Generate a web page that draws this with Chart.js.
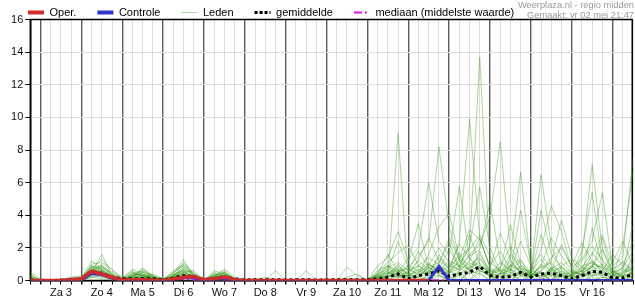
<!DOCTYPE html>
<html>
<head>
<meta charset="utf-8">
<title>Neerslag pluim</title>
<script src="https://cdn.jsdelivr.net/npm/chart.js@4"></script>
<style>
  html, body { margin: 0; padding: 0; background: #fff; }
  #wrap { width: 635px; height: 300px; }
</style>
</head>
<body>
<div id="wrap"><canvas id="pluim" width="635" height="300"></canvas></div>
<script>
'use strict';

// one value per 6 hours, starting vr 2 mei 18:00
const dagen = ['Za 3', 'Zo 4', 'Ma 5', 'Di 6', 'Wo 7', 'Do 8', 'Vr 9', 'Za 10', 'Zo 11', 'Ma 12', 'Di 13', 'Wo 14', 'Do 15', 'Vr 16'];
const yTicks = [0, 2, 4, 6, 8, 10, 12, 14, 16];

const oper = [0, 0,0,0,0.05, 0.1,0.57,0.4,0.2, 0.03,0.05,0.05,0.03, 0,0.1,0.2,0.25, 0.05,0.1,0.22,0.05, 0,0,0,0, 0,0,0,0, 0,0,0,0, 0,0,0,0, 0,0,0];
const controle = [0, 0,0,0,0.03, 0.05,0.45,0.35,0.15, 0,0.03,0.03,0, 0,0.05,0.2,0.2, 0,0.05,0.15,0, 0,0,0,0, 0,0,0,0, 0,0,0,0, 0,0,0,0, 0,0,0,0.86, 0,0,0,0, 0,0,0,0, 0,0,0,0, 0,0,0,0, 0,0,0];
const gemiddelde = [0.05, 0,0,0.02,0.05, 0.1,0.55,0.45,0.2, 0.1,0.1,0.12,0.1, 0.05,0.15,0.3,0.25, 0.05,0.1,0.2,0.1, 0.03,0.05,0.05,0.05, 0.03,0.05,0.05,0.03, 0.03,0.05,0.05,0.05, 0.05,0.1,0.2,0.4, 0.1,0.3,0.4,0.6, 0.25,0.4,0.5,0.85, 0.3,0.2,0.25,0.5, 0.2,0.4,0.45,0.3, 0.1,0.3,0.55,0.5, 0.15,0.15,0.4];
const mediaan = [0, 0,0,0,0, 0,0.4,0.35,0.1, 0,0,0,0, 0,0,0.1,0.05, 0,0,0.05,0, 0,0,0,0, 0,0,0,0, 0,0,0,0, 0,0,0,0, 0,0,0,0, 0,0,0,0, 0,0,0,0, 0,0.05,0.07,0, 0,0,0,0, 0,0,0];

const lid01 = [0.3, 0,0,0,0.1, 0.2,0.9,0.6,0.2, 0.05,0.3,0.5,0.2, 0,0.3,0.8,0.3, 0,0.2,0.4,0.1, 0,0,0,0, 0,0,0,0, 0,0,0.1,0, 0,0.3,0.2,9.0, 0.1,0.3,0.8,0.4, 0,0.6,1.1,0.8, 0.3,0,1.4,6.65, 0.9,0,0.8,0.3, 0,0.6,1.2,0.7, 0,0.5,1.0];
const lid02 = [0.1, 0,0,0,0, 0.1,0.6,1.0,0.4, 0.1,0.1,0.2,0.4, 0.1,0.2,0.5,0.6, 0.1,0.3,0.2,0, 0,0.1,0,0, 0,0,0,0, 0,0,0,0.1, 0,0.2,0.6,0.4, 0.8,1.5,2.4,8.2, 3.3,1.2,0.6,1.8, 0.4,0,0.9,1.3, 0.2,0.5,0,0.8, 0.3,1.5,7.1,1.9, 0.4,0,0.6];
const lid03 = [0, 0,0,0.1,0, 0.1,1.2,0.7,0.1, 0,0.5,0.3,0.1, 0,0.4,1.3,0.2, 0,0.4,0.6,0.1, 0,0,0,0, 0,0,0,0, 0,0,0,0, 0,0.1,0.3,1.0, 0.3,0.6,1.1,0.5, 0.9,1.4,2.0,13.7, 1.1,0.6,0,0.5, 0.2,1.0,0.6,2.2, 0.8,1.3,2.4,5.4, 0.7,1.1,0.5];
const lid04 = [0.5, 0.1,0,0,0.2, 0.3,0.5,1.6,0.3, 0,0.2,0.7,0.3, 0,0.1,0.3,0.1, 0,0.1,0.3,0, 0,0,0,0.6, 0,0,0,0, 0,0,0,0, 0,0.3,0.9,0.6, 0.2,0.9,0.4,1.6, 0.6,2.4,9.9,2.6, 0.8,0.3,0.5,0.9, 0.4,6.5,2.1,0.6, 0.3,0,1.0,0.8, 0.2,0.9,2.4];
const lid05 = [0.2, 0,0,0,0, 0,0.7,0.4,0.3, 0.2,0.6,0.2,0.1, 0,0.5,0.9,0.4, 0,0.5,0.2,0.1, 0,0,0.2,0, 0,0,0.6,0, 0,0,0,0, 0,0.1,0.2,0.8, 0.4,1.2,0.6,0.9, 0.5,0.7,1.6,2.2, 3.9,8.5,1.8,0.7, 0.3,0.8,1.1,0.4, 0,0.4,1.6,2.8, 0.9,1.4,7.5];
const lid06 = [0, 0,0,0,0.1, 0.1,0.4,0.8,0.5, 0.1,0.2,0.8,0.2, 0,0.2,0.6,0.2, 0,0.3,0.5,0, 0,0,0,0, 0,0,0,0, 0.1,0,0.8,0.3, 0,0.4,0.7,0.5, 1.3,2.0,6.0,2.4, 1.6,5.8,1.3,0.9, 0.6,0.4,1.2,0.5, 0.3,1.9,4.6,3.0, 0.7,0.3,0.5,0.2, 0.1,0.3,0.4];
const lid07 = [0.1, 0,0,0,0, 0,1.0,1.1,0.7, 0.1,0.7,0.4,0.2, 0.1,0.6,1.0,0.5, 0,0.2,0.7,0.2, 0,0.1,0,0, 0,0,0,0, 0,0,0,0, 0,0.2,0.5,0.3, 0.1,0.4,1.0,0.6, 1.2,0.9,2.1,5.7, 2.0,0.5,0.9,0.6, 0.2,0,0.6,0.4, 0.5,1.8,5.4,1.2, 0.6,0.2,1.5];
const lid08 = [0, 0,0,0,0, 0,0.3,0.3,0.2, 0,0.1,0.1,0.1, 0,0.1,0.2,0.1, 0,0.1,0.1,0, 0,0,0,0, 0,0,0,0, 0,0,0.2,0.4, 0,0.6,0.9,0.2, 0.3,0.2,0.8,1.1, 2.3,0.8,1.5,1.9, 4.8,1.2,0.6,4.3, 1.0,0.4,0,0.6, 0.2,0.9,1.1,0.8, 0.3,2.1,6.7];
const lid09 = [0.4, 0,0,0,0, 0.1,0.8,0.9,0.3, 0,0.4,0.6,0.3, 0,0.2,1.1,0.4, 0,0.3,0.5,0.1, 0,0,0,0, 0,0,0,0, 0,0,0,0, 0,0.9,1.4,3.0, 1.2,3.5,0.7,1.0, 0.5,1.7,0.6,1.3, 0.7,0,1.0,0.6, 0.4,4.3,1.6,0.8, 0.3,0.6,0.9,0.4, 0.2,0.4,0.8];
const lid10 = [0, 0,0,0,0.2, 0.2,0.7,1.3,0.6, 0.2,0.2,0.3,0.2, 0,0.3,0.7,0.4, 0,0.2,0.3,0.1, 0,0,0,0, 0,0,0,0, 0,0,0,0, 0,0.2,0.8,1.1, 0.6,0.9,1.4,1.0, 2.6,1.3,3.1,2.5, 0.9,1.8,0.7,0.3, 0.2,0.6,1.2,3.7, 1.4,0.8,0.6,0.3, 0.5,0.3,0.2];
const lid11 = [0.2, 0,0,0,0, 0,0.8,0.5,0.2, 0.1,0.3,0.4,0.1, 0,0.5,0.9,0.3, 0,0.6,0.4,0.1, 0,0,0,0, 0,0,0,0, 0,0,0,0, 0,0.5,1.1,1.7, 2.15,0.9,0.5,0.8, 0.6,1.1,1.9,2.8, 1.5,0.4,0.6,1.2, 0.5,0.2,0.4,0.9, 1.3,0.5,0.8,1.9, 0.6,0.3,0.9];
const lid12 = [0.1, 0,0,0,0.1, 0.1,0.6,0.8,0.4, 0,0.3,0.6,0.2, 0,0.1,0.4,0.2, 0,0.2,0.2,0, 0,0,0,0, 0,0,0,0, 0,0,0,0, 0,0.1,0.4,0.9, 0.4,1.3,2.6,1.2, 0.8,2.2,1.4,0.6, 0.3,1.1,0.6,2.4, 0.9,1.6,0.7,0.3, 0.2,1.2,2.1,1.3, 0.4,0.8,1.8];
const lid13 = [0, 0,0,0,0, 0.1,0.5,0.6,0.2, 0,0.4,0.3,0.2, 0,0.3,0.7,0.3, 0,0.4,0.3,0, 0,0,0,0, 0,0,0,0, 0,0,0,0, 0,0,0.2,0.6, 0.2,0.5,0.9,2.0, 1.1,0.6,1.2,2.6, 0.8,2.9,1.3,0.4, 0.3,0.9,2.6,1.5, 0.6,0.3,3.2,0.9, 0.3,0.5,0.7];
const lid14 = [0.3, 0,0,0,0, 0,0.6,0.9,0.3, 0.1,0.5,0.2,0.1, 0,0.2,0.5,0.2, 0,0.3,0.4,0.1, 0,0,0,0, 0,0,0,0, 0,0,0,0, 0,0.3,0.6,2.4, 0.8,0.3,0.6,0.4, 0.5,0.9,0.7,1.6, 0.6,0.8,2.1,0.9, 0.4,2.8,0.9,0.5, 0.2,0.7,1.1,0.6, 1.6,0.9,0.4];
const lid15 = [0, 0,0,0,0, 0.1,0.9,0.7,0.3, 0,0.2,0.5,0.3, 0.1,0.4,0.6,0.2, 0,0.1,0.5,0.1, 0,0,0,0, 0,0,0,0, 0,0,0,0, 0,0.1,0.3,0.2, 0.6,1.8,0.8,0.5, 0.4,0.3,0.8,1.1, 0.5,0.2,0.4,0.8, 0.3,0.6,1.4,2.0, 0.9,2.3,1.2,0.5, 0.3,0.6,3.4];
const lid16 = [0, 0,0,0,0, 0,0.5,0.4,0.1, 0,0.1,0.3,0.1, 0,0.2,0.4,0.1, 0,0.2,0.3,0, 0,0,0,0, 0,0,0,0, 0,0,0,0, 0,0.2,0.4,0.7, 0.3,0.2,0.5,1.4, 0.9,0.7,2.8,1.0, 0.4,0.6,0.3,0.5, 0.2,0.3,0.7,1.1, 0.5,0.4,0.8,2.6, 0.4,0.2,0.5];
const lid17 = [0.1, 0,0,0,0, 0.1,0.7,0.5,0.2, 0,0.2,0.3,0.2, 0,0.3,0.5,0.2, 0,0.2,0.3,0.1, 0,0,0,0, 0,0,0,0, 0,0,0,0, 0,0.4,0.9,0.5, 0.9,0.6,0.3,0.7, 1.9,0.8,0.4,0.6, 0.3,0.4,1.6,0.7, 0.6,1.3,0.5,0.2, 0.1,0.3,0.6,1.0, 0.4,1.2,0.6];
const lid18 = [0, 0,0,0,0, 0,0.4,0.6,0.3, 0,0.1,0.2,0.1, 0,0.1,0.3,0.1, 0,0.1,0.2,0, 0,0,0,0, 0,0,0,0, 0,0,0,0, 0,0,0.2,0.4, 0.2,0,0.4,0.6, 0.5,0.4,0.9,1.4, 0.4,0,0.2,0.6, 0.2,0.5,0,0.4, 0.2,0.4,0.9,0.3, 0,0.3,0.5];
const lid19 = [0, 0,0,0,0, 0,0.3,0.2,0.1, 0,0,0.1,0, 0,0.1,0.2,0.1, 0,0,0.1,0, 0,0,0,0, 0,0,0,0, 0,0,0,0, 0,0.3,0,0.5, 0,0,0.3,0.3, 0,0.5,0,0.8, 0.2,0,0.4,0, 0,0.2,0.8,0, 0.3,0,0.3,0.6, 0,0,0.3];
const lid20 = [0, 0,0,0,0, 0.1,0.4,0.5,0.1, 0,0.2,0.1,0, 0,0.2,0.3,0, 0,0.2,0.2,0, 0,0,0,0, 0,0,0,0, 0,0,0,0, 0,0,0.3,0.2, 0.5,0,1.0,0.6, 0.3,0,0.6,0.4, 0,0.4,0.7,0, 0.3,0.9,0.4,0, 0.4,0.6,0,0.2, 0,0.5,1.2];
const lid21 = [0, 0,0,0,0, 0,0.2,0.3,0, 0,0,0,0, 0,0,0.1,0, 0,0,0,0, 0,0,0,0, 0,0,0,0, 0,0,0,0, 0,0,0,0.3, 0,0,0.2,0, 0,0.3,0,0.5, 0,0,0,0.3, 0,0,0.3,0, 0,0.2,0.4,0, 0,0,0.2];
const lid22 = [0.1, 0,0,0,0, 0,0.5,0.7,0.2, 0,0.3,0.4,0.1, 0,0.3,0.6,0.1, 0,0.2,0.3,0, 0,0,0,0, 0,0,0,0, 0,0,0,0, 0,0.4,1.6,0.6, 0.7,0.4,1.6,3.3, 4.1,1.4,0.9,0.6, 0.4,0.7,0.5,0.3, 0.6,0.4,0.3,0.2, 0.3,0.8,1.7,0.9, 0.5,0.7,0.4];
const lid23 = [0, 0,0,0,0, 0,0.6,0.4,0.2, 0,0.2,0.2,0.1, 0,0.2,0.4,0.2, 0,0.3,0.2,0, 0,0,0,0, 0,0,0,0, 0,0,0,0, 0,0.2,0.5,0.3, 0.3,0.7,0.4,0.6, 0.4,1.3,0.6,0.9, 0.5,0.7,3.4,1.0, 0.4,0.3,0.6,0.8, 0.5,0.4,0.3,0.4, 1.1,2.4,0.9];
const lid24 = [0, 0,0,0,0, 0,0.2,0.1,0, 0,0,0,0, 0,0,0,0, 0,0,0,0, 0,0,0,0, 0,0,0,0, 0,0,0,0, 0,0,0,0, 0,0,0,0.3, 0,0,0.5,0, 0,0,0,0.5, 0,0,0,0, 0,0,0.2,0, 0,0,0];

const leden = [lid01, lid02, lid03, lid04, lid05, lid06, lid07, lid08, lid09, lid10, lid11, lid12,
  lid13, lid14, lid15, lid16, lid17, lid18, lid19, lid20, lid21, lid22, lid23, lid24];

const ROOD = '#d02c2c';
const BLAUW = '#3232cc';
const GROEN = 'rgba(50,150,20,0.4)';
const MAGENTA = '#e010e0';
const FONT = '"Liberation Sans", Arial, sans-serif';

Chart.defaults.font.family = FONT;
Chart.defaults.font.size = 11;
Chart.defaults.color = '#111';

const punten = arr => arr.map((v, i) => ({ x: i, y: v }));

const lijn = {
  pointRadius: 0,
  tension: 0,
  fill: false,
  borderJoinStyle: 'miter'
};

const datasets = [
  Object.assign({ label: 'Oper.', data: punten(oper), borderColor: ROOD, borderWidth: 3.5, order: 0 }, lijn),
  Object.assign({ label: 'Controle', data: punten(controle), borderColor: BLAUW, borderWidth: 3, order: 1 }, lijn)
];
leden.forEach(lid => {
  datasets.push(Object.assign({ label: 'Leden', data: punten(lid), borderColor: GROEN, borderWidth: 1, order: 5 }, lijn));
});
datasets.push(Object.assign({ label: 'gemiddelde', data: punten(gemiddelde), borderColor: '#000', borderWidth: 3, borderDash: [3, 3], order: 2 }, lijn));
datasets.push(Object.assign({ label: 'mediaan (middelste waarde)', data: punten(mediaan), borderColor: MAGENTA, borderWidth: 2, borderDash: [7, 3, 2, 3], order: 3 }, lijn));

const legenda = [
  { text: 'Oper.', strokeStyle: ROOD, lineWidth: 4, lineDash: [] },
  { text: 'Controle', strokeStyle: BLAUW, lineWidth: 4, lineDash: [] },
  { text: 'Leden', strokeStyle: 'rgba(80,170,50,0.45)', lineWidth: 1, lineDash: [] },
  { text: 'gemiddelde', strokeStyle: '#000', lineWidth: 3, lineDash: [3, 2] },
  { text: 'mediaan (middelste waarde)', strokeStyle: MAGENTA, lineWidth: 2, lineDash: [8, 3, 2, 3] }
];

// frame round the plot and the two grey lines top right
const kader = {
  id: 'kader',
  beforeDatasetsDraw(chart) {
    const { ctx, chartArea: a } = chart;
    ctx.save();
    ctx.strokeStyle = '#000';
    ctx.lineWidth = 1.5;
    ctx.strokeRect(a.left, a.top, a.right - a.left - 0.75, a.bottom - a.top);
    ctx.restore();
  },
  afterDraw(chart) {
    const ctx = chart.ctx;
    ctx.save();
    ctx.font = '9.3px ' + FONT;
    ctx.fillStyle = '#9a9a9a';
    ctx.textAlign = 'right';
    ctx.textBaseline = 'middle';
    ctx.fillText('Weerplaza.nl - regio midden', 634, 5);
    ctx.fillText('Gemaakt: vr 02 mei 21:47', 634, 15.5);
    ctx.restore();
  }
};

new Chart(document.getElementById('pluim'), {
  type: 'line',
  data: { datasets: datasets },
  plugins: [kader],
  options: {
    responsive: false,
    animation: false,
    devicePixelRatio: 1,
    layout: { padding: { top: -14, left: 7, right: 0, bottom: 0 } },
    plugins: {
      tooltip: { enabled: false },
      legend: {
        position: 'top',
        align: 'start',
        maxHeight: 33.5,
        labels: {
          usePointStyle: true,
          pointStyleWidth: 16,
          padding: 21,
          color: '#222',
          font: { size: 11 },
          generateLabels: () => legenda.map((l, i) => ({
            text: l.text,
            strokeStyle: l.strokeStyle,
            fillStyle: l.strokeStyle,
            lineWidth: l.lineWidth,
            lineDash: l.lineDash,
            lineCap: 'butt',
            pointStyle: 'line',
            hidden: false,
            datasetIndex: i
          }))
        }
      }
    },
    scales: {
      x: {
        type: 'linear',
        min: 0,
        max: 59,
        afterFit: s => { s.height = 19.5; },
        border: { color: '#000', width: 1.5 },
        grid: {
          color: c => (c.tick && c.tick.value % 4 === 1) ? '#5c5c5c' : '#dcdcdc',
          lineWidth: c => (c.tick && c.tick.value % 4 === 1) ? 1.4 : 1,
          tickColor: '#000',
          tickLength: 4
        },
        ticks: {
          stepSize: 1,
          autoSkip: false,
          maxRotation: 0,
          maxTicksLimit: 100,
          padding: 2,
          color: '#111',
          callback: v => ((v - 3) % 4 === 0 && dagen[(v - 3) / 4]) ? dagen[(v - 3) / 4] : ''
        }
      },
      y: {
        min: yTicks[0],
        max: yTicks[yTicks.length - 1],
        afterFit: s => { s.width = 23.3; },
        border: { color: '#000', width: 1.5 },
        grid: { color: '#dcdcdc', tickColor: '#000', tickLength: 5 },
        ticks: { stepSize: 2, padding: 2, color: '#111' }
      }
    }
  }
});
</script>
</body>
</html>
